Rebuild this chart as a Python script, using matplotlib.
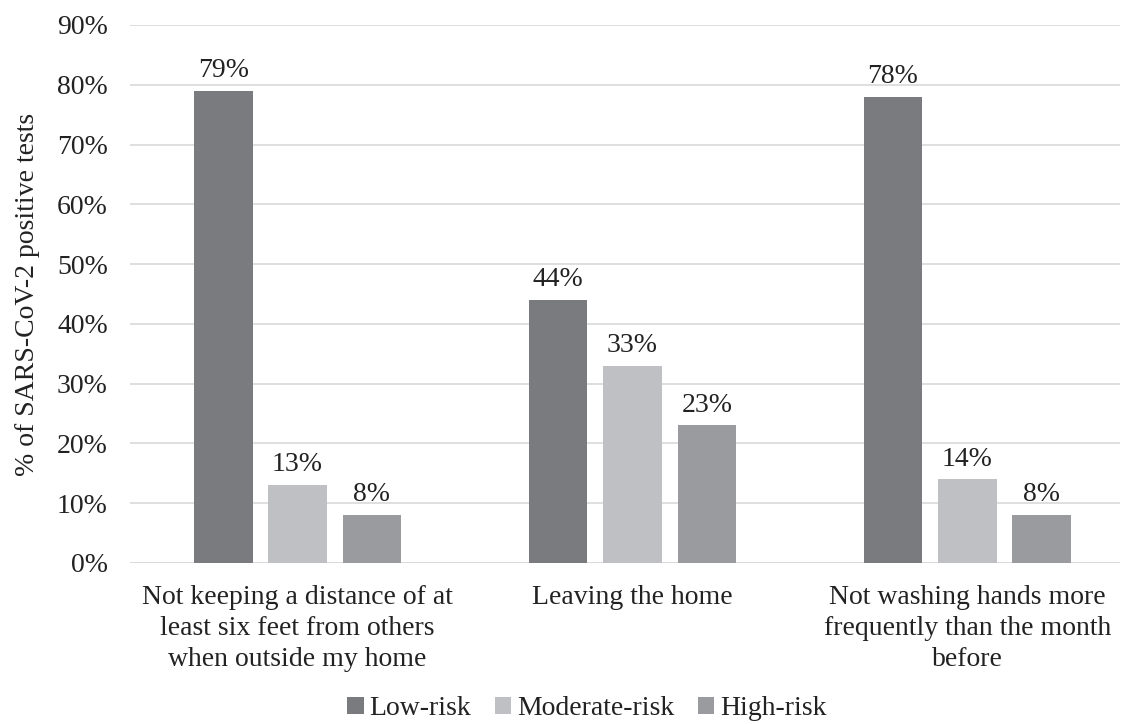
import matplotlib.pyplot as plt
import numpy as np

plt.rcParams['font.family'] = ['Liberation Serif', 'DejaVu Serif']

categories = ['Not keeping a distance of at\nleast six feet from others\nwhen outside my home',
              'Leaving the home',
              'Not washing hands more\nfrequently than the month\nbefore']
series = ['Low-risk', 'Moderate-risk', 'High-risk']
low = [79, 44, 78]
moderate = [13, 33, 14]
high = [8, 23, 8]
colors = ['#7a7b7f', '#bfc0c4', '#9a9b9f']

fig = plt.figure(figsize=(11.22, 7.24), dpi=100)
ax = fig.add_axes([0.116, 0.2224, 0.882, 0.7431])

fs = 20
x = np.arange(len(categories))
width = 0.175
offsets = [-0.222, 0, 0.222]
for vals, name, c, off in zip([low, moderate, high], series, colors, offsets):
    bars = ax.bar(x + off, vals, width, color=c, label=name, zorder=2)
    for b, v in zip(bars, vals):
        ax.text(b.get_x() + b.get_width() / 2, v + 1.3, f'{v}%',
                ha='center', va='bottom', fontsize=fs, color='#222222')

ax.set_xlim(-0.5, 2.455)
ax.set_ylim(0, 90)
ax.set_yticks(range(0, 91, 10))
ax.set_yticklabels([f'{t}%' for t in range(0, 91, 10)], fontsize=fs, color='#222222')
ax.set_xticks(x)
ax.set_xticklabels(categories, fontsize=fs, color='#222222', linespacing=1.32)
ax.tick_params(axis='y', length=0, pad=16)
ax.tick_params(axis='x', length=0, pad=16)
ax.yaxis.grid(True, color='#d9d9d9', linewidth=1.2, zorder=0)
ax.set_axisbelow(True)
for s in ax.spines.values():
    s.set_visible(False)
ax.axhline(0, color='#d9d9d9', linewidth=1.2, zorder=1)

ax.set_ylabel('% of SARS-CoV-2 positive tests', fontsize=fs, color='#222222', labelpad=12)

fig.legend(loc='center', bbox_to_anchor=(0.523, 0.021), ncol=3, frameon=False,
           fontsize=fs, handlelength=0.6, handleheight=0.6, handletextpad=0.2,
           columnspacing=0.85, labelcolor='#222222', borderpad=0.1)

fig.savefig('out.png', dpi=100)
